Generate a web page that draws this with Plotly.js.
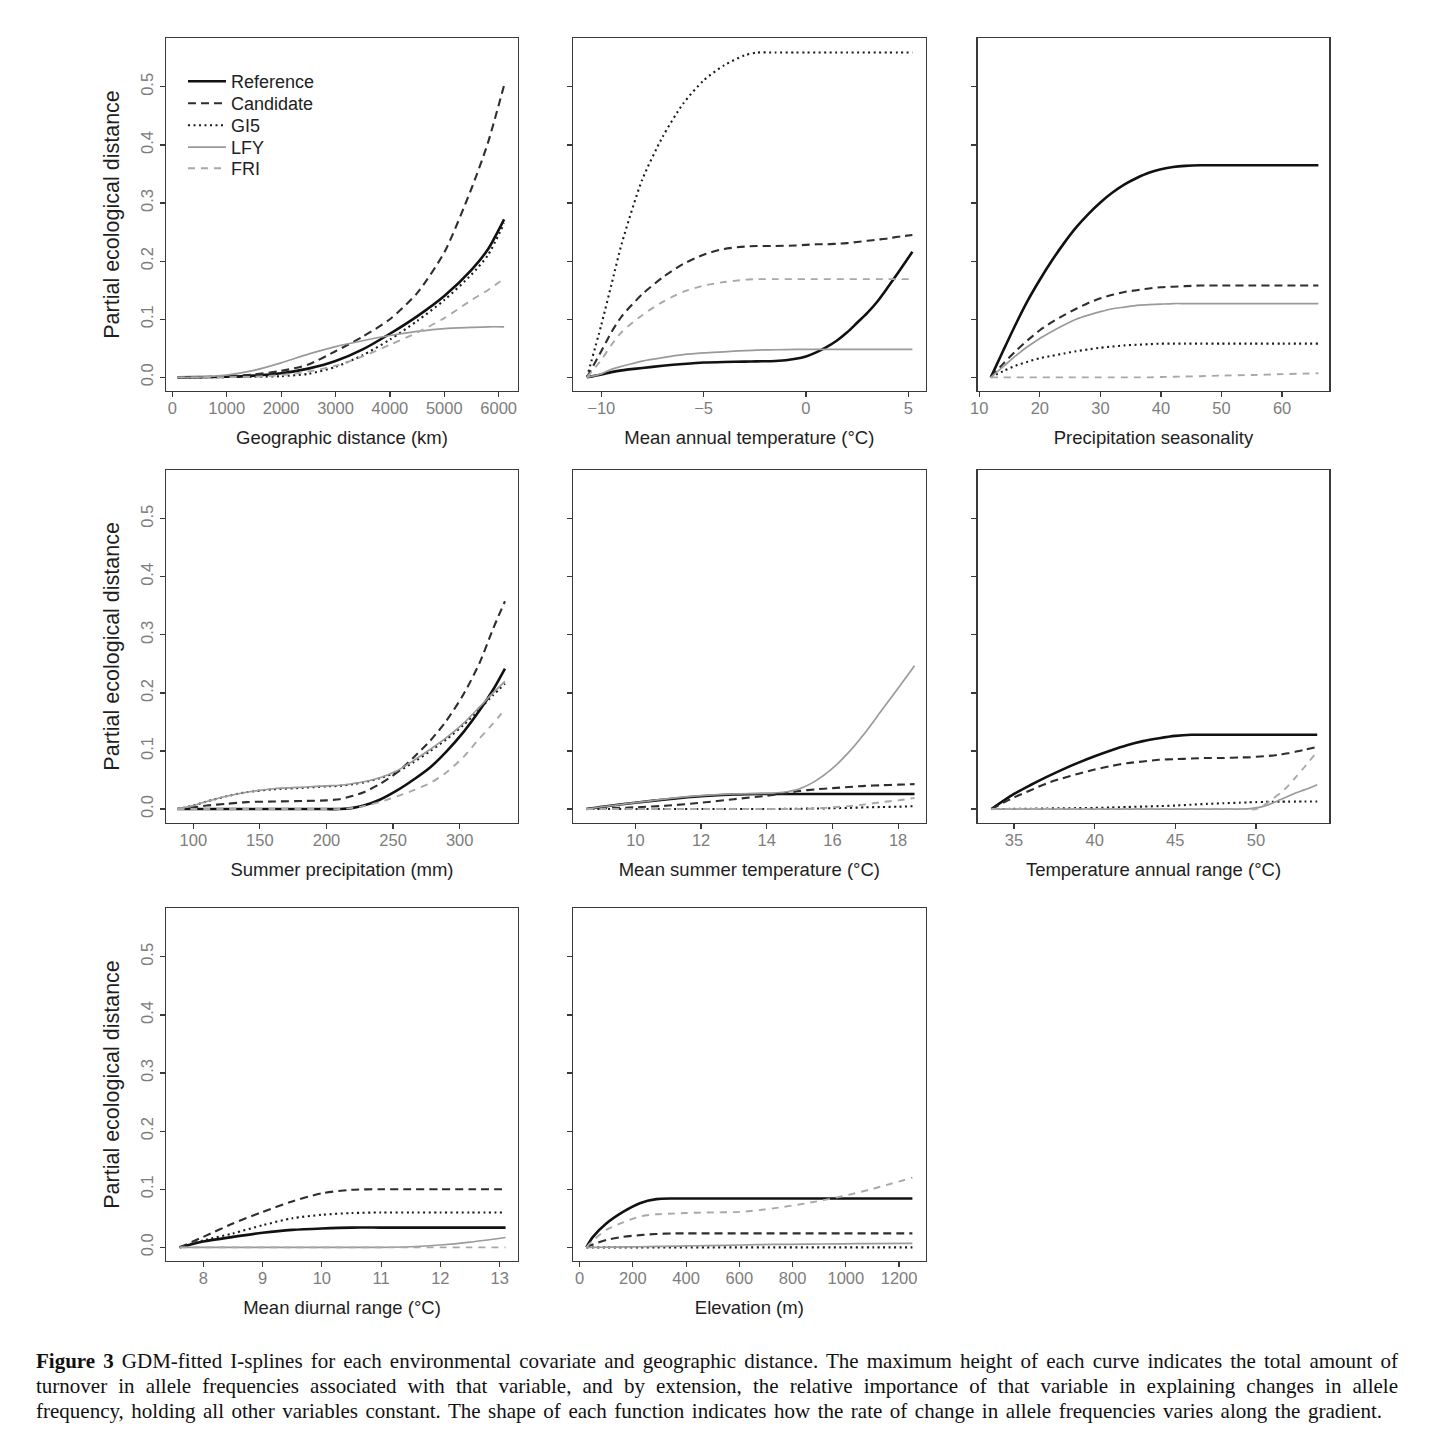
<!DOCTYPE html>
<html>
<head>
<meta charset="utf-8">
<script src="https://cdn.plot.ly/plotly-3.0.1.min.js"></script>
<style>
  html, body { margin: 0; padding: 0; background: #fff; }
  #wrap { position: relative; width: 1434px; height: 1456px; }
  #chart { position: absolute; left: 0; top: 0; width: 1434px; height: 1456px; }
  #cap { position: absolute; left: 36px; top: 1349px; width: 1362px;
         font-family: "Liberation Serif", "DejaVu Serif", serif; font-size: 21px;
         line-height: 25px; color: #111; }
  #cap .ln { text-align: justify; text-align-last: justify; white-space: nowrap; }
  #cap .last { width: 1346px; }
</style>
</head>
<body>
<div id="wrap">
  <div id="chart"></div>
  <div id="cap">
    <div class="ln"><b>Figure 3</b> GDM-fitted I-splines for each environmental covariate and geographic distance. The maximum height of each curve indicates the total amount of</div>
    <div class="ln">turnover in allele frequencies associated with that variable, and by extension, the relative importance of that variable in explaining changes in allele</div>
    <div class="ln last">frequency, holding all other variables constant. The shape of each function indicates how the rate of change in allele frequencies varies along the gradient.</div>
  </div>
</div>
<script>
// ---------------- DATA ----------------
const seriesNames = ["Reference", "Candidate", "GI5", "LFY", "FRI"];
const yTickVals = [0, 0.1, 0.2, 0.3, 0.4, 0.5];
const yTickText = ["0.0", "0.1", "0.2", "0.3", "0.4", "0.5"];

// Panel 1: Geographic distance (km)
const geoX    = [100, 500, 1000, 1500, 2000, 2500, 3000, 3500, 4000, 4500, 5000, 5500, 5800, 6100];
const geoRef  = [0, 0.0003, 0.001, 0.003, 0.007, 0.015, 0.028, 0.048, 0.075, 0.105, 0.14, 0.185, 0.22, 0.272];
const geoCand = [0, 0.0005, 0.002, 0.005, 0.011, 0.022, 0.045, 0.07, 0.1, 0.145, 0.215, 0.325, 0.403, 0.503];
const geoGI5  = [0, 0, 0.0005, 0.001, 0.002, 0.006, 0.018, 0.038, 0.065, 0.097, 0.133, 0.177, 0.21, 0.265];
const geoLFY  = [0, 0.0005, 0.004, 0.012, 0.025, 0.04, 0.053, 0.063, 0.072, 0.079, 0.084, 0.086, 0.087, 0.087];
const geoFRI  = [0, 0, 0.0003, 0.001, 0.004, 0.01, 0.02, 0.036, 0.056, 0.077, 0.102, 0.133, 0.15, 0.17];

// Panel 2: Mean annual temperature (°C)
const matX    = [-10.7, -10, -9.5, -9, -8, -7, -6, -5, -4, -3, -2.4, -1.5, -0.5, 0, 0.5, 1, 1.5, 2, 2.5, 3, 3.5, 4, 4.5, 5.2];
const matRef  = [0, 0.005, 0.009, 0.012, 0.016, 0.02, 0.023, 0.0255, 0.0265, 0.027, 0.0275, 0.028, 0.032, 0.036, 0.043, 0.052, 0.063, 0.077, 0.094, 0.111, 0.131, 0.155, 0.18, 0.216];
const matCand = [0, 0.045, 0.078, 0.105, 0.143, 0.172, 0.195, 0.211, 0.221, 0.225, 0.226, 0.226, 0.227, 0.228, 0.229, 0.229, 0.23, 0.231, 0.233, 0.235, 0.237, 0.239, 0.242, 0.245];
const matGI5  = [0, 0.09, 0.16, 0.23, 0.34, 0.414, 0.471, 0.511, 0.537, 0.554, 0.559, 0.559, 0.559, 0.559, 0.559, 0.559, 0.559, 0.559, 0.559, 0.559, 0.559, 0.559, 0.559, 0.559];
const matLFY  = [0, 0.006, 0.014, 0.019, 0.028, 0.034, 0.039, 0.042, 0.044, 0.046, 0.047, 0.0475, 0.048, 0.048, 0.048, 0.048, 0.048, 0.048, 0.048, 0.048, 0.048, 0.048, 0.048, 0.048];
const matFRI  = [0, 0.03, 0.056, 0.078, 0.107, 0.13, 0.147, 0.158, 0.164, 0.168, 0.169, 0.169, 0.169, 0.169, 0.169, 0.169, 0.169, 0.169, 0.169, 0.169, 0.169, 0.169, 0.169, 0.169];

// Panel 3: Precipitation seasonality
const psX    = [11.9, 14, 16, 18, 20, 22, 24, 26, 28, 30, 32, 34, 36, 38, 40, 42, 44, 46.5, 50, 55, 60, 66];
const psRef  = [0, 0.047, 0.091, 0.132, 0.168, 0.201, 0.231, 0.258, 0.281, 0.301, 0.318, 0.332, 0.343, 0.352, 0.358, 0.362, 0.364, 0.365, 0.365, 0.365, 0.365, 0.365];
const psCand = [0, 0.024, 0.045, 0.064, 0.081, 0.095, 0.107, 0.118, 0.128, 0.136, 0.142, 0.147, 0.15, 0.153, 0.155, 0.156, 0.157, 0.158, 0.158, 0.158, 0.158, 0.158];
const psGI5  = [0, 0.011, 0.02, 0.027, 0.033, 0.037, 0.041, 0.045, 0.048, 0.051, 0.053, 0.055, 0.056, 0.057, 0.058, 0.058, 0.058, 0.058, 0.058, 0.058, 0.058, 0.058];
const psLFY  = [0, 0.019, 0.037, 0.053, 0.067, 0.079, 0.09, 0.1, 0.107, 0.113, 0.118, 0.121, 0.124, 0.125, 0.126, 0.127, 0.127, 0.127, 0.127, 0.127, 0.127, 0.127];
const psFRI  = [0, 0, 0, 0, 0, 0, 0, 0, 0, 0, 0, 0, 0, 0, 0.0005, 0.001, 0.0015, 0.002, 0.003, 0.004, 0.0055, 0.007];

// Panel 4: Summer precipitation (mm)
const spX    = [88, 100, 110, 125, 140, 160, 185, 200, 210, 220, 228, 240, 253, 265, 278, 290, 303, 315, 325, 334];
const spRef  = [0, 0, 0, 0, 0, 0, 0, 0, 0, 0.002, 0.006, 0.016, 0.032, 0.05, 0.072, 0.099, 0.133, 0.17, 0.205, 0.242];
const spCand = [0, 0.003, 0.006, 0.009, 0.012, 0.013, 0.014, 0.015, 0.017, 0.023, 0.029, 0.043, 0.063, 0.088, 0.118, 0.152, 0.198, 0.252, 0.31, 0.358];
const spGI5  = [0, 0.006, 0.013, 0.022, 0.029, 0.034, 0.037, 0.039, 0.04, 0.043, 0.046, 0.053, 0.064, 0.08, 0.1, 0.12, 0.145, 0.172, 0.196, 0.216];
const spLFY  = [0, 0.006, 0.013, 0.022, 0.029, 0.035, 0.038, 0.04, 0.041, 0.044, 0.047, 0.054, 0.066, 0.083, 0.103, 0.123, 0.148, 0.176, 0.2, 0.22];
const spFRI  = [0, 0, 0, 0, 0, 0, 0, 0, 0, 0.002, 0.005, 0.012, 0.022, 0.032, 0.045, 0.063, 0.09, 0.122, 0.147, 0.172];

// Panel 5: Mean summer temperature (°C)
const mstX    = [8.5, 9, 10, 11, 12, 13, 14, 14.5, 15, 15.5, 16, 16.5, 17, 17.5, 18, 18.5];
const mstRef  = [0, 0.004, 0.011, 0.017, 0.022, 0.025, 0.026, 0.026, 0.026, 0.026, 0.026, 0.026, 0.026, 0.026, 0.026, 0.026];
const mstCand = [0, 0.001, 0.003, 0.006, 0.011, 0.017, 0.023, 0.027, 0.031, 0.034, 0.036, 0.038, 0.04, 0.041, 0.042, 0.043];
const mstGI5  = [0, 0, 0, 0, 0, 0, 0, 0.0003, 0.0005, 0.001, 0.0015, 0.002, 0.003, 0.0035, 0.004, 0.005];
const mstLFY  = [0, 0.004, 0.011, 0.018, 0.023, 0.026, 0.027, 0.029, 0.035, 0.049, 0.07, 0.098, 0.132, 0.17, 0.208, 0.247];
const mstFRI  = [0, 0, 0, 0, 0, 0, 0, 0, 0, 0.001, 0.003, 0.005, 0.008, 0.012, 0.015, 0.019];

// Panel 6: Temperature annual range (°C)
const tarX    = [33.6, 35, 36, 37, 38, 39, 40, 41, 42, 43, 44, 45, 46, 47, 48, 49, 49.5, 50, 50.5, 51, 51.5, 52, 52.5, 53, 53.8];
const tarRef  = [0, 0.026, 0.041, 0.055, 0.068, 0.08, 0.091, 0.101, 0.11, 0.117, 0.122, 0.126, 0.128, 0.128, 0.128, 0.128, 0.128, 0.128, 0.128, 0.128, 0.128, 0.128, 0.128, 0.128, 0.128];
const tarCand = [0, 0.02, 0.032, 0.044, 0.053, 0.061, 0.068, 0.074, 0.079, 0.082, 0.085, 0.086, 0.087, 0.088, 0.088, 0.089, 0.089, 0.09, 0.091, 0.092, 0.094, 0.096, 0.099, 0.102, 0.107];
const tarGI5  = [0, 0.0003, 0.0006, 0.001, 0.0013, 0.0016, 0.002, 0.0027, 0.0035, 0.0043, 0.005, 0.006, 0.0075, 0.009, 0.01, 0.011, 0.0115, 0.012, 0.0123, 0.0125, 0.0127, 0.0128, 0.0129, 0.013, 0.013];
const tarLFY  = [0, 0, 0, 0, 0, 0, 0, 0, 0, 0, 0, 0, 0, 0, 0, 0, 0.0003, 0.002, 0.005, 0.01, 0.016, 0.022, 0.028, 0.033, 0.042];
const tarFRI  = [0, 0, 0, 0, 0, 0, 0, 0, 0, 0, 0, 0, 0, 0, 0, 0, 0, 0, 0.007, 0.017, 0.027, 0.04, 0.056, 0.072, 0.099];

// Panel 7: Mean diurnal range (°C)
const mdrX    = [7.6, 8, 8.5, 9, 9.5, 10, 10.5, 11, 11.5, 12, 12.5, 13.1];
const mdrRef  = [0, 0.01, 0.018, 0.025, 0.03, 0.0325, 0.034, 0.034, 0.034, 0.034, 0.034, 0.034];
const mdrCand = [0, 0.018, 0.041, 0.061, 0.079, 0.093, 0.099, 0.1, 0.1, 0.1, 0.1, 0.1];
const mdrGI5  = [0, 0.012, 0.024, 0.038, 0.05, 0.056, 0.059, 0.06, 0.06, 0.06, 0.06, 0.06];
const mdrLFY  = [0, 0, 0, 0, 0, 0, 0, 0, 0.001, 0.004, 0.009, 0.017];
const mdrFRI  = [0, 0, 0, 0, 0, 0, 0, 0, 0, 0, 0, 0];

// Panel 8: Elevation (m)
const elvX    = [25, 50, 100, 163, 226, 288, 351, 400, 476, 602, 727, 853, 978, 1103, 1250];
const elvRef  = [0, 0.018, 0.041, 0.061, 0.076, 0.083, 0.084, 0.084, 0.084, 0.084, 0.084, 0.084, 0.084, 0.084, 0.084];
const elvCand = [0, 0.005, 0.0126, 0.018, 0.021, 0.023, 0.024, 0.024, 0.024, 0.024, 0.024, 0.024, 0.024, 0.024, 0.024];
const elvGI5  = [0, 0, 0, 0, 0, 0, 0, 0, 0, 0, 0, 0, 0, 0, 0];
const elvLFY  = [0, 0, 0.0003, 0.0007, 0.001, 0.0015, 0.002, 0.0025, 0.003, 0.004, 0.005, 0.0055, 0.006, 0.0065, 0.007];
const elvFRI  = [0, 0.012, 0.03, 0.043, 0.053, 0.057, 0.058, 0.059, 0.06, 0.061, 0.067, 0.076, 0.087, 0.101, 0.12];

// Axis titles and ticks
const xTitles = ["Geographic distance (km)", "Mean annual temperature (°C)", "Precipitation seasonality",
                 "Summer precipitation (mm)", "Mean summer temperature (°C)", "Temperature annual range (°C)",
                 "Mean diurnal range (°C)", "Elevation (m)"];
const xTicks = [[0,1000,2000,3000,4000,5000,6000], [-10,-5,0,5], [10,20,30,40,50,60], [100,150,200,250,300],
                [10,12,14,16,18], [35,40,45,50], [8,9,10,11,12,13], [0,200,400,600,800,1000,1200]];
const yTitle = "Partial ecological distance";

// ---------------- STYLE / LAYOUT ----------------
const panels = [
  {x: geoX, ys: [geoRef, geoCand, geoGI5, geoLFY, geoFRI], range: [-116, 6355]},
  {x: matX, ys: [matRef, matCand, matGI5, matLFY, matFRI], range: [-11.38, 5.85]},
  {x: psX,  ys: [psRef, psCand, psGI5, psLFY, psFRI], range: [9.74, 67.8]},
  {x: spX,  ys: [spRef, spCand, spGI5, spLFY, spFRI], range: [79.5, 343.8]},
  {x: mstX, ys: [mstRef, mstCand, mstGI5, mstLFY, mstFRI], range: [8.1, 18.84]},
  {x: tarX, ys: [tarRef, tarCand, tarGI5, tarLFY, tarFRI], range: [32.75, 54.55]},
  {x: mdrX, ys: [mdrRef, mdrCand, mdrGI5, mdrLFY, mdrFRI], range: [7.37, 13.31]},
  {x: elvX, ys: [elvRef, elvCand, elvGI5, elvLFY, elvFRI], range: [-25, 1300]}
];
const lineStyles = [
  {color: "#111111", width: 2.6, dash: "solid"},
  {color: "#2e2e2e", width: 2.1, dash: "8px,5px"},
  {color: "#1a1a1a", width: 2.1, dash: "2px,3.5px"},
  {color: "#9a9a9a", width: 1.7, dash: "solid"},
  {color: "#a8a8a8", width: 1.9, dash: "7px,6px"}
];

const W = 1434, H = 1456;
const colPx = [[166, 518], [573, 925.7], [977.7, 1329.3]];
const rowPx = [[38, 391], [470, 822.7], [908, 1261]];
const yRange = [-0.0235, 0.584];
const legendRowsPx = [81, 103, 125, 147, 168];
const legendIds = ["legend", "legend2", "legend3", "legend4", "legend5"];
const FONT = "Liberation Sans, Arial, sans-serif";

const traces = [];
const layout = {
  width: W, height: H,
  margin: {l: 0, r: 0, t: 0, b: 0},
  paper_bgcolor: "#ffffff", plot_bgcolor: "#ffffff",
  font: {family: FONT, color: "#222"},
  showlegend: true
};
legendIds.forEach((id, k) => {
  layout[id] = {
    x: 183 / W, y: 1 - (legendRowsPx[k] - 18) / H, xanchor: "left", yanchor: "top",
    bgcolor: "rgba(0,0,0,0)", borderwidth: 0, itemwidth: 38,
    font: {family: FONT, size: 18, color: "#222"}
  };
});

panels.forEach((p, i) => {
  const n = i + 1;
  const xa = n === 1 ? "x" : "x" + n;
  const ya = n === 1 ? "y" : "y" + n;
  const col = i % 3, row = Math.floor(i / 3);
  p.ys.forEach((yv, s) => {
    traces.push({
      type: "scatter", mode: "lines", x: p.x, y: yv,
      xaxis: xa, yaxis: ya, name: seriesNames[s],
      showlegend: n === 1, legend: legendIds[s],
      line: Object.assign({shape: "spline", smoothing: 0.7}, lineStyles[s]),
      hoverinfo: "skip"
    });
  });
  const axCommon = {
    showgrid: false, zeroline: false, showline: true, mirror: true,
    linecolor: "#3a3a3a", linewidth: 1.3,
    ticks: "outside", ticklen: 5, tickwidth: 1.2, tickcolor: "#3a3a3a",
    tickfont: {family: FONT, size: 16.5, color: "#7d7d7d"}
  };
  layout["xaxis" + (n === 1 ? "" : n)] = Object.assign({}, axCommon, {
    domain: [colPx[col][0] / W, colPx[col][1] / W],
    range: p.range, anchor: ya,
    tickmode: "array", tickvals: xTicks[i], ticklabelstandoff: -3,
    title: {text: xTitles[i], standoff: 15,
            font: {family: FONT, size: 18.5, color: "#1e1e1e"}}
  });
  layout["yaxis" + (n === 1 ? "" : n)] = Object.assign({}, axCommon, {
    domain: [1 - rowPx[row][1] / H, 1 - rowPx[row][0] / H],
    range: yRange, anchor: xa,
    tickmode: "array", tickvals: yTickVals, ticktext: yTickText,
    tickangle: -90, showticklabels: col === 0,
    title: col === 0 ? {text: yTitle, standoff: 12,
            font: {family: FONT, size: 21.5, color: "#1e1e1e"}} : {text: ""}
  });
});

Plotly.newPlot("chart", traces, layout, {staticPlot: true, displayModeBar: false});
</script>
</body>
</html>
